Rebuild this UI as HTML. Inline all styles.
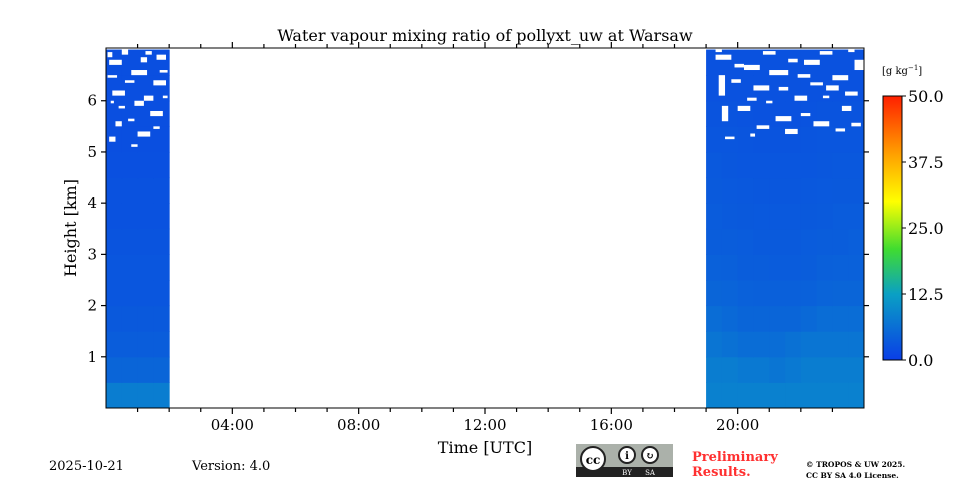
<!DOCTYPE html>
<html><head><meta charset="utf-8"><style>
body{margin:0;background:#fff;width:960px;height:480px;overflow:hidden}
svg text{font-family:"DejaVu Serif","Liberation Serif",serif;fill:#000}
</style></head><body>
<svg id="chart" width="960" height="480">
<text x="485" y="41" font-size="16" text-anchor="middle">Water vapour mixing ratio of pollyxt_uw at Warsaw</text>
<g id="plot"></g>
<g id="axes"></g>
<text x="76" y="228" font-size="16" text-anchor="middle" transform="rotate(-90 76 228)">Height [km]</text>
<text x="485" y="453" font-size="16" text-anchor="middle">Time [UTC]</text>
<defs><linearGradient id="cg" x1="0" y1="1" x2="0" y2="0">
<stop offset="0" stop-color="#0a3ee6"/><stop offset="0.25" stop-color="#0aa0c4"/><stop offset="0.42" stop-color="#40dc30"/><stop offset="0.6" stop-color="#ffff00"/><stop offset="0.78" stop-color="#ffa000"/><stop offset="1" stop-color="#ff2000"/></linearGradient></defs>
<rect x="883" y="96" width="19" height="264" fill="url(#cg)" stroke="#000" stroke-width="1"/>
<text x="882" y="74" font-size="10">[g kg<tspan dy="-4" font-size="7">−1</tspan><tspan dy="4">]</tspan></text>
<g id="cbticks"></g>
<text x="49" y="470" font-size="13">2025-10-21</text>
<text x="192" y="470" font-size="13">Version: 4.0</text>
<g>
<rect x="576" y="444" width="97" height="33" fill="#abb1aa"/><rect x="576" y="467" width="97" height="10" fill="#222"/>
<circle cx="593" cy="459" r="12" fill="#fff" stroke="#222" stroke-width="2"/><text x="593" y="464" font-size="12" text-anchor="middle" font-family="Liberation Sans" font-weight="bold">cc</text>
<circle cx="627" cy="455" r="8" fill="#fff" stroke="#222" stroke-width="2"/><circle cx="650" cy="455" r="8" fill="#fff" stroke="#222" stroke-width="2"/>
<text x="627" y="459" font-size="10" text-anchor="middle" font-weight="bold">i</text><text x="650" y="459" font-size="10" text-anchor="middle" font-weight="bold">↻</text>
<text x="627" y="475" font-size="7" style="fill:#fff" text-anchor="middle" font-family="Liberation Sans">BY</text><text x="650" y="475" font-size="7" style="fill:#fff" text-anchor="middle" font-family="Liberation Sans">SA</text>
</g>
<text x="692" y="461" font-size="13" font-weight="bold" style="fill:#ff3030">Preliminary</text>
<text x="692" y="476" font-size="13" font-weight="bold" style="fill:#ff3030">Results.</text>
<text x="806" y="467" font-size="7.5" font-weight="bold">© TROPOS &amp; UW 2025.</text>
<text x="806" y="478" font-size="7.5" font-weight="bold">CC BY SA 4.0 License.</text>
</svg>
<script>
// data
const heightEdges=[0,0.5,1,1.5,2,2.5,3,3.5,4,4.5,5,5.5,6,6.5,7];
const leftTimes=[0,0.5,1,1.5,2];
const rightTimes=[19,19.5,20,20.5,21,21.5,22,22.5,23,23.5,24];
const leftValues=[
[8,8,8,8],[5,5,5,5],[4,4,4,4],[3.5,3.5,3.5,3.5],[3,3,3,3],[3,3,3,3],[2.8,2.8,2.8,2.8],[2.6,2.6,2.6,2.6],[2.5,2.5,2.5,2.5],[2.3,2.3,2.3,2.3],[2.2,2.2,2.2,2.2],[2.2,2.2,2.2,2.2],[2.2,2.2,2.2,2.2],[2.2,2.2,2.2,2.2]];
const rightValues=[
[8.5,8.5,8.5,8.5,8.5,8.5,8.5,8.5,8.5,8.5],[8,8,7.5,7.5,7,7.5,8,8,8,8],[7,6.5,6,6,6,6.5,7,7,7,7],[6,5.5,5,5,5,5,5.5,6,6,6],[5,4.8,4.5,4.3,4.3,4.3,4.5,4.8,5,5],[4.5,4.3,4,4,3.8,3.8,4,4.3,4.5,4.5],[4,4,3.8,3.6,3.6,3.6,3.8,4,4,4.2],[3.8,3.6,3.5,3.4,3.4,3.4,3.5,3.6,3.8,3.8],[3.6,3.4,3.3,3.2,3.2,3.2,3.3,3.4,3.5,3.5],[3.4,3.2,3.1,3,3,3,3.1,3.2,3.3,3.3],[3,3,2.9,2.8,2.8,2.8,2.9,3,3,3],[2.8,2.8,2.7,2.6,2.6,2.6,2.7,2.8,2.8,2.8],[2.6,2.6,2.6,2.5,2.5,2.5,2.6,2.6,2.6,2.6],[2.5,2.5,2.5,2.5,2.5,2.5,2.5,2.5,2.5,2.5]];
const gaps=[[0.1,0.5,6.7,6.8],[0.8,1.3,6.5,6.6],[1.5,1.9,6.3,6.4],[0.2,0.6,6.1,6.2],[0.9,1.2,5.9,6.0],[1.4,1.8,5.7,5.8],[0.3,0.5,5.5,5.6],[1.0,1.4,5.3,5.4],[0.5,0.7,6.9,7.0],[1.6,1.9,6.8,6.9],[0.1,0.3,5.2,5.3],[1.2,1.5,6.0,6.1],
[0.05,0.35,6.45,6.5],[0.6,0.9,6.35,6.4],[1.1,1.3,6.75,6.85],[1.7,1.95,6.55,6.6],[0.4,0.6,5.85,5.9],[1.5,1.7,5.45,5.5],[0.7,0.9,5.6,5.65],[0.15,0.25,5.95,6.0],[1.8,1.95,6.05,6.1],[0.05,0.2,6.85,6.95],[1.25,1.45,6.9,6.97],[0.8,1.0,5.1,5.15],
[19.3,19.8,6.8,6.9],[20.2,20.7,6.6,6.7],[21.0,21.6,6.5,6.6],[22.1,22.6,6.7,6.8],[23.0,23.5,6.4,6.5],[19.4,19.6,6.1,6.5],[20.5,21.0,6.2,6.3],[21.8,22.2,6.0,6.1],[22.8,23.2,6.2,6.3],[20.0,20.4,5.8,5.9],[21.2,21.7,5.6,5.7],[22.4,22.9,5.5,5.6],[23.3,23.6,5.8,5.9],[21.5,21.9,5.35,5.45],[19.5,19.7,5.6,5.9],[23.7,24,6.6,6.8],
[19.8,20.1,6.35,6.42],[20.8,21.2,6.9,6.97],[21.9,22.3,6.45,6.52],[22.6,23.0,6.9,6.97],[23.4,23.8,6.1,6.18],[20.3,20.6,6.0,6.06],[21.3,21.6,6.2,6.27],[22.3,22.7,6.3,6.36],[23.6,23.9,5.5,5.57],[20.6,21.0,5.45,5.52],[19.6,19.9,5.25,5.3],[22.0,22.3,5.7,5.76],[23.1,23.4,5.4,5.46],[20.9,21.1,5.95,6.0],[22.7,22.9,6.05,6.1],[19.9,20.2,6.65,6.72],[21.6,21.9,6.75,6.82],[23.5,23.7,6.95,7.0],[19.3,19.5,6.95,7.0],[20.4,20.55,5.3,5.36]];
const yTicks=[1,2,3,4,5,6];
const xTickHours=[4,8,12,16,20];
const xTickLabels=["04:00","08:00","12:00","16:00","20:00"];
const cbTicks=[0,12.5,25,37.5,50];
const cbLabels=["0.0","12.5","25.0","37.5","50.0"];

const X0=106,X1=864,Y0=408,Y1=48,HMAX=7.03;
const xs=t=>X0+(X1-X0)*t/24, ys=h=>Y0-(Y0-Y1)*h/HMAX;
const stops=[[0,[10,62,230]],[12.5,[10,160,196]],[21,[64,220,48]],[30,[255,255,0]],[39,[255,160,0]],[50,[255,32,0]]];
function col(v){for(let i=1;i<stops.length;i++){if(v<=stops[i][0]){const a=stops[i-1],b=stops[i],f=(v-a[0])/(b[0]-a[0]);return 'rgb('+a[1].map((c,k)=>Math.round(c+(b[1][k]-c)*f)).join(',')+')';}}return 'rgb(255,32,0)';}
const NS='http://www.w3.org/2000/svg';
const plot=document.getElementById('plot');
function mk(tag,attrs,parent){const e=document.createElementNS(NS,tag);for(const k in attrs)e.setAttribute(k,attrs[k]);parent.appendChild(e);return e;}
function block(times,vals,name){for(let r=0;r<vals.length;r++)for(let c=0;c<vals[r].length;c++){
const x=xs(times[c]),w=xs(times[c+1])-x,y=ys(heightEdges[r+1]),h=ys(heightEdges[r])-y;
const e=mk('rect',{x:x,y:y,width:w+0.5,height:h+0.5,fill:col(vals[r][c])},plot);

}}
block(leftTimes,leftValues,'heatmap-cell-night');
block(rightTimes,rightValues,'heatmap-cell-evening');
gaps.forEach(g=>{const e=mk('rect',{x:xs(g[0]),y:ys(g[3]),width:xs(g[1])-xs(g[0]),height:ys(g[2])-ys(g[3]),fill:'#fff'},plot);

});
const ax=document.getElementById('axes');
mk('rect',{x:X0,y:Y1,width:X1-X0,height:Y0-Y1,fill:'none',stroke:'#000','stroke-width':1},ax);
for(let hr=1;hr<24;hr++){const x=xs(hr),L=hr%4?4:6;mk('line',{x1:x,x2:x,y1:Y0,y2:Y0+L,stroke:'#000','stroke-width':1.2},ax);mk('line',{x1:x,x2:x,y1:Y1,y2:Y1-L,stroke:'#000','stroke-width':1.2},ax);}
xTickHours.forEach((h,i)=>{const t=mk('text',{x:xs(h),y:430,'font-size':15,'text-anchor':'middle'},ax);t.textContent=xTickLabels[i];

});
yTicks.forEach(v=>{const y=ys(v);mk('line',{x1:X0-5,x2:X0,y1:y,y2:y,stroke:'#000','stroke-width':1.2},ax);mk('line',{x1:X1,x2:X1+5,y1:y,y2:y,stroke:'#000','stroke-width':1.2},ax);
const t=mk('text',{x:X0-9,y:y+5,'font-size':15,'text-anchor':'end'},ax);t.textContent=v;

});
const cb=document.getElementById('cbticks');
cbTicks.forEach((v,i)=>{const y=360-264*v/50;mk('line',{x1:902,x2:906,y1:y,y2:y,stroke:'#000'},cb);
const t=mk('text',{x:908,y:y+6,'font-size':16},cb);t.textContent=cbLabels[i];

});
</script>
</body></html>
